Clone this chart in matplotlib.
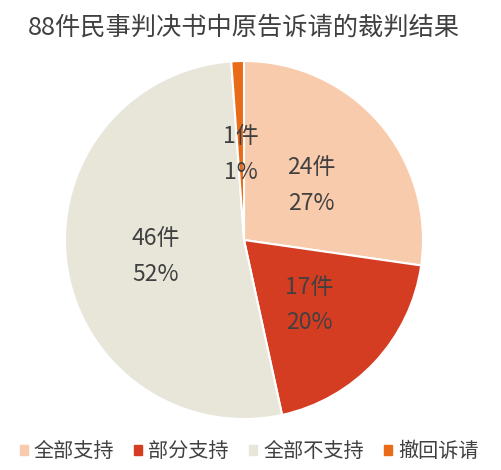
import matplotlib
matplotlib.use('Agg')
import matplotlib.pyplot as plt
import numpy as np

plt.rcParams['font.family'] = ['Noto Sans CJK SC', 'DejaVu Sans']

categories = ['全部支持', '部分支持', '全部不支持', '撤回诉请']
counts = [24, 17, 46, 1]
percents = ['27%', '20%', '52%', '1%']
colors = ['#F8CBAD', '#D43D22', '#E8E5D9', '#EA6B17']
title = '88件民事判决书中原告诉请的裁判结果'

fig = plt.figure(figsize=(5.01, 4.70), dpi=100)
ax = fig.add_axes([0.0, 0.0, 1.0, 1.0])

cx, cy, rad = 244, 230, 179
wedges, texts = ax.pie(counts, colors=colors, startangle=90, counterclock=False,
                       center=(cx, cy), radius=rad,
                       wedgeprops=dict(edgecolor='white', linewidth=1.5))
ax.set_xlim(0, 501)
ax.set_ylim(0, 470)
ax.set_aspect('equal')
ax.axis('off')

total = sum(counts)
start = 90.0
for i, c in enumerate(counts):
    mid = start - c / total * 360 / 2
    start -= c / total * 360
    r = rad * 0.5
    x = cx + r * np.cos(np.radians(mid))
    y = cy + r * np.sin(np.radians(mid)) - 4
    ax.text(x, y, f'{c}件\n{percents[i]}', ha='center', va='center',
            fontsize=16.5, color='#404040', linespacing=1.7)

ax.text(244, 442, title, ha='center', va='center', fontsize=18.2, color='#404040')

handles = [plt.Rectangle((0, 0), 1, 1, color=col) for col in colors]
fig.legend(handles, categories, loc='lower center', ncol=4, frameon=False,
           bbox_to_anchor=(0.497, -0.022), fontsize=14.5, labelcolor='#404040',
           handlelength=0.4, handleheight=0.4, handletextpad=0.3, columnspacing=1.0)

fig.savefig('out.png', dpi=100)
